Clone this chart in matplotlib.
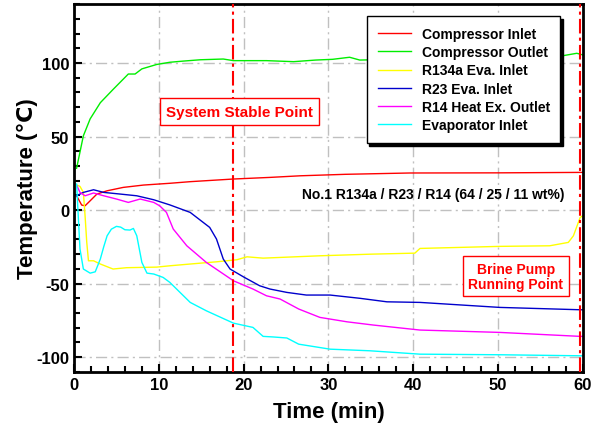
import matplotlib.pyplot as plt
import numpy as np
from matplotlib.ticker import MultipleLocator

plt.rcParams['font.family'] = ['Liberation Sans', 'DejaVu Sans']
plt.rcParams['font.weight'] = 'bold'
plt.rcParams['axes.unicode_minus'] = False

# Compressor Inlet
t_ci = [0.0, 0.3, 0.9, 1.3, 1.9, 2.7, 3.9, 5.8, 8.2, 11.3, 13.7, 18.8, 23.1, 26.7, 32.0, 39.6, 50.0, 59.7, 60.0]
T_ci = [10.0, 9.7, 3.4, 2.9, 6.3, 10.9, 13.1, 15.4, 17.0, 18.2, 19.3, 21.1, 22.2, 23.3, 24.3, 25.2, 25.3, 25.6, 25.6]

# Compressor Outlet
t_co = [0.3, 1.1, 1.9, 3.1, 4.6, 5.8, 6.4, 7.2, 8.0, 9.75, 11.3, 12.9, 14.9, 17.6, 18.8, 22.7, 25.9, 28.5, 30.5, 32.5, 33.7,
        38.0, 44.0, 50.0, 55.0, 57.7, 59.3, 60.0]
T_co = [28.4, 50.5, 62.0, 73.0, 82.0, 89.0, 92.5, 92.5, 96.0, 99.0, 100.5, 101.3, 102.2, 102.7, 101.6, 101.6, 100.9, 102.0, 102.5, 103.9, 102.0,
        102.5, 103.0, 103.5, 103.0, 105.0, 106.6, 105.5]

# R134a Eva. Inlet
t_ye = [0.3, 0.7, 1.1, 1.3, 1.5, 1.7, 2.3, 3.1, 4.6, 6.2, 9.75, 11.3, 13.7, 16.8, 19.2, 20.4, 22.3, 29.0, 35.0, 40.2, 40.8,
        50.2, 56.1, 58.3, 58.9, 59.7, 60.0]
T_ye = [17.0, 16.1, 12.0, -3.9, -22.0, -34.5, -34.5, -36.7, -40.1, -39.2, -38.8, -37.9, -36.7, -35.2, -33.8, -31.8, -32.7, -31.1, -30.0, -29.3, -26.1,
        -24.7, -24.3, -22.0, -17.5, -5.0, -3.9]

# R23 Eva. Inlet
t_bl = [0.3, 1.1, 2.3, 3.5, 5.4, 7.4, 9.4, 11.3, 13.7, 16.0, 16.8, 17.6, 18.4, 20.0, 21.9, 23.1, 25.1, 27.4, 30.2, 33.7,
        36.9, 40.8, 50.2, 59.7, 60.0]
T_bl = [9.7, 12.0, 13.8, 12.0, 10.9, 9.7, 7.0, 3.5, -1.6, -11.8, -19.7, -33.3, -40.1, -45.5, -51.5, -53.7, -56.0, -57.8, -57.8, -60.0,
        -62.4, -62.8, -66.2, -67.8, -67.8]

# R14 Heat Ex. Outlet
t_mg = [0.3, 0.7, 1.3, 2.3, 3.5, 5.0, 6.4, 7.8, 9.4, 10.1, 10.9, 11.7, 13.3, 15.6, 18.8, 21.1, 22.7, 24.3, 26.5, 29.0,
        32.2, 35.3, 40.8, 50.2, 59.7, 60.0]
T_mg = [17.0, 12.0, 9.7, 11.6, 9.7, 7.5, 5.2, 7.5, 5.2, 2.9, -1.6, -12.9, -24.3, -35.6, -48.1, -53.7, -58.3, -60.5, -67.3, -73.0,
        -76.0, -78.2, -81.6, -83.2, -85.9, -85.9]

# Evaporator Inlet
t_cy = [0.3, 0.7, 1.1, 1.9, 2.5, 3.1, 3.5, 3.9, 4.4, 5.0, 5.5, 6.0, 6.6, 7.0, 7.4, 8.0, 8.6, 9.4, 10.5, 11.3, 12.5, 13.7, 15.6, 18.8, 21.1,
        22.3, 23.5, 25.1, 26.5, 30.2, 34.9, 40.8, 50.2, 59.7, 60.0]
T_cy = [17.7, -26.5, -40.1, -42.9, -42.0, -33.3, -25.0, -17.5, -13.0, -11.1, -11.6, -13.4, -13.6, -12.5, -17.5, -35.6, -42.9, -43.5, -45.8, -49.2, -56.0, -62.8, -68.5, -76.9, -79.8,
        -85.9, -86.3, -87.0, -91.2, -94.6, -95.7, -98.0, -98.4, -99.1, -99.1]

series = [
    ('Compressor Inlet', t_ci, T_ci, '#ff0000'),
    ('Compressor Outlet', t_co, T_co, '#00ee00'),
    ('R134a Eva. Inlet', t_ye, T_ye, '#ffff00'),
    ('R23 Eva. Inlet', t_bl, T_bl, '#0000cc'),
    ('R14 Heat Ex. Outlet', t_mg, T_mg, '#ff00ff'),
    ('Evaporator Inlet', t_cy, T_cy, '#00ffff'),
]

stable_t = 18.8
brine_t = 59.7

fig = plt.figure(figsize=(6.02, 4.31), dpi=100)
ax = fig.add_axes([0.123, 0.135, 0.845, 0.853])

for name, t, T, c in series:
    ax.plot(t, T, color=c, lw=1.0, label=name)

ax.axvline(stable_t, color='#ff0000', lw=1.5, ls=(0, (7, 2, 1.5, 2)), zorder=5)
ax.axvline(brine_t, color='#ff0000', lw=1.5, ls=(0, (7, 2, 1.5, 2)), zorder=5)

ax.set_xlim(0, 60)
ax.set_ylim(-110, 140)
ax.xaxis.set_major_locator(MultipleLocator(10))
ax.xaxis.set_minor_locator(MultipleLocator(2))
ax.yaxis.set_minor_locator(MultipleLocator(10))
ax.set_yticks([-100, -50, 0, 50, 100])
ax.tick_params(which='both', direction='in', top=False, right=False, labelsize=12, width=1.5)
ax.tick_params(which='major', length=6)
ax.tick_params(which='minor', length=4)
for lab in ax.get_xticklabels() + ax.get_yticklabels():
    lab.set_fontweight('bold')
for s in ax.spines.values():
    s.set_linewidth(2)

ax.grid(True, which='major', color='#c0c0c0', lw=1, ls=(0, (8, 3, 1.5, 3)))
ax.set_axisbelow(True)

ax.set_xlabel('Time (min)', fontsize=16, fontweight='bold', labelpad=7)
ax.set_ylabel('Temperature (\u2103)', fontsize=16, fontweight='bold', labelpad=-1)

ax.text(19.5, 67, 'System Stable Point', color='#ff0000', fontsize=11, fontweight='bold',
        ha='center', va='center', zorder=6,
        bbox=dict(boxstyle='square,pad=0.4', fc='white', ec='#ff0000', lw=1))
ax.text(52.1, -45, 'Brine Pump\nRunning Point', color='#ff0000', fontsize=10, fontweight='bold',
        ha='center', va='center', linespacing=1.1, zorder=6,
        bbox=dict(boxstyle='square,pad=0.4', fc='white', ec='#ff0000', lw=1))
ax.text(57.9, 11, 'No.1 R134a / R23 / R14 (64 / 25 / 11 wt%)', fontsize=10, fontweight='bold',
        ha='right', va='center', zorder=6)

leg = ax.legend(loc='upper left', bbox_to_anchor=(0.575, 0.614, 0.38, 0.354), mode='expand',
                borderaxespad=0, fancybox=False, edgecolor='black', framealpha=1, fontsize=10,
                handlelength=2.4, labelspacing=0.3, borderpad=0.8,
                shadow={'color': 'black', 'alpha': 1})
leg.set_zorder(7)
leg.get_frame().set_linewidth(1)
for txt in leg.get_texts():
    txt.set_fontweight('bold')

fig.savefig('out.png', dpi=100)
